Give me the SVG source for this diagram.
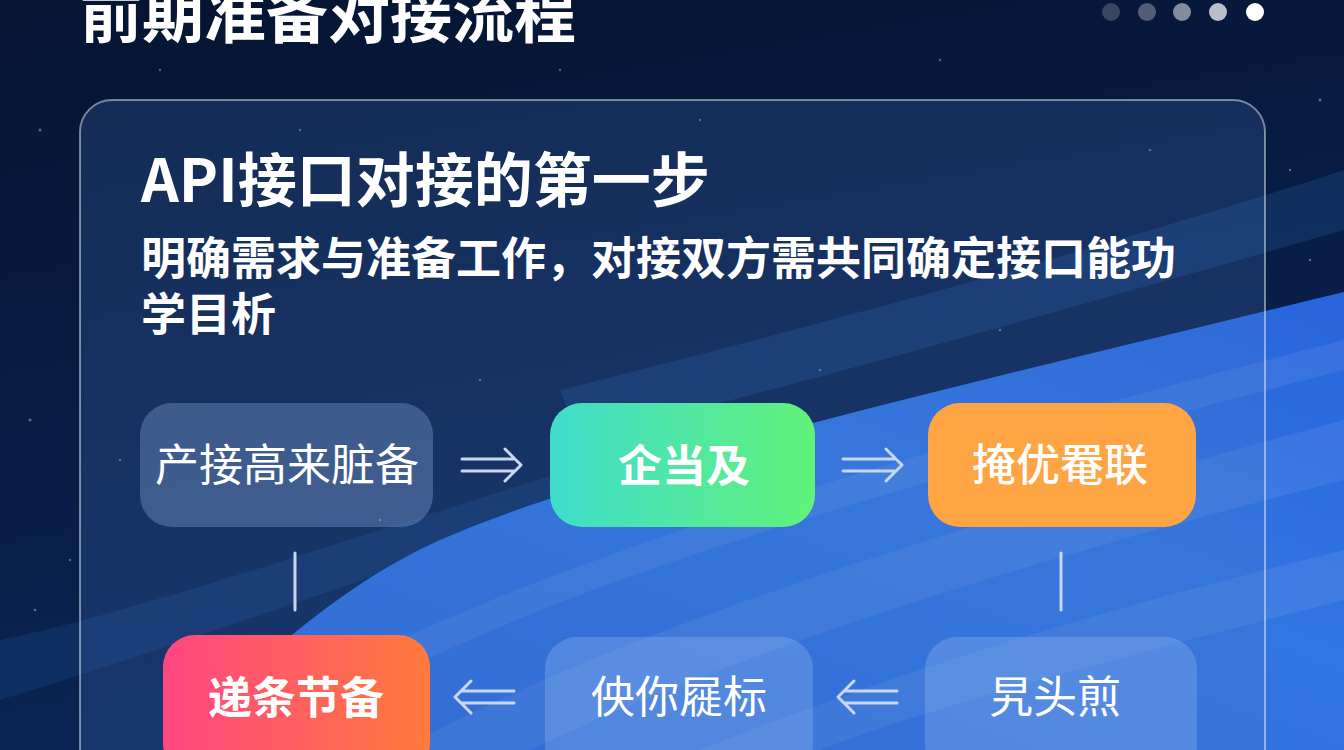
<svg xmlns="http://www.w3.org/2000/svg" width="1344" height="750" viewBox="0 0 1344 750">
<defs>
<linearGradient id="bg" x1="0" y1="0" x2="0.3" y2="1">
<stop offset="0" stop-color="#051431"/>
<stop offset="1" stop-color="#0b2556"/>
</linearGradient>
<linearGradient id="blue" x1="0" y1="1" x2="1" y2="0">
<stop offset="0" stop-color="#2b68d8"/>
<stop offset="0.6" stop-color="#3276e2"/>
<stop offset="1" stop-color="#2864dc"/>
</linearGradient>
<linearGradient id="g2" x1="0" y1="0" x2="1" y2="0">
<stop offset="0" stop-color="#3fdccc"/>
<stop offset="1" stop-color="#62f27a"/>
</linearGradient>
<linearGradient id="g4" x1="0" y1="0" x2="1" y2="0">
<stop offset="0" stop-color="#ff4682"/>
<stop offset="1" stop-color="#ff7a3c"/>
</linearGradient>
<style>
.t{font-family:"Noto Sans CJK SC","Noto Sans",sans-serif;fill:#ffffff}
.nt{font-family:"Noto Sans CJK SC",sans-serif;fill:#ffffff;font-size:44px;text-anchor:middle}
.glass{fill:#9dbdf2;fill-opacity:0.3}
.con{fill:none;stroke:#c9d6f0;stroke-width:3;stroke-linecap:round;stroke-linejoin:round}
.star{fill:#ffffff;fill-opacity:0.35}
.streak{fill:#ffffff;fill-opacity:0.07}
</style>
</defs>
<rect x="0" y="0" width="1344" height="750" fill="url(#bg)"/>
<path d="M0 640 C 150 610, 400 520, 700 430 L 700 470 C 450 545, 200 640, 0 700 Z" fill="#1a4588" fill-opacity="0.35"/>
<path d="M560 390 C 800 330, 1100 250, 1344 170 L 1344 230 C 1100 300, 850 370, 580 440 Z" fill="#2358a0" fill-opacity="0.3"/>
<path d="M170 750 C 250 670, 330 590, 440 540 C 600 470, 900 400, 1344 292 L 1344 750 Z" fill="url(#blue)"/>
<path class="streak" d="M400 750 C 600 640, 900 540, 1344 420 L 1344 480 C 950 580, 700 670, 530 750 Z"/>
<path class="streak" d="M700 750 C 900 670, 1100 610, 1344 550 L 1344 600 C 1150 650, 950 700, 820 750 Z"/>
<path class="streak" d="M300 690 C 500 580, 800 480, 1344 340 L 1344 370 C 800 510, 520 600, 330 710 Z"/>
<g>
<circle class="star" cx="40" cy="130" r="1.5"/><circle class="star" cx="160" cy="70" r="1.2"/>
<circle class="star" cx="30" cy="420" r="1.5"/><circle class="star" cx="70" cy="560" r="1.2"/>
<circle class="star" cx="35" cy="610" r="1.3"/><circle class="star" cx="1320" cy="100" r="1.5"/>
<circle class="star" cx="1290" cy="170" r="1.2"/><circle class="star" cx="1310" cy="260" r="1.3"/>
<circle class="star" cx="480" cy="380" r="1.2"/><circle class="star" cx="820" cy="370" r="1.2"/>
<circle class="star" cx="1000" cy="330" r="1.3"/><circle class="star" cx="300" cy="130" r="1.2"/>
<circle class="star" cx="700" cy="120" r="1.2"/><circle class="star" cx="1150" cy="150" r="1.3"/>
<circle class="star" cx="380" cy="520" r="1.2"/><circle class="star" cx="120" cy="460" r="1.2"/>
<circle class="star" cx="560" cy="70" r="1.2"/><circle class="star" cx="940" cy="60" r="1.2"/>
</g>
<g id="header">
<text class="t" x="80" y="38" font-size="62" font-weight="700">前期准备对接流程</text>
<circle cx="1111" cy="12" r="9" fill="#ffffff" fill-opacity="0.2"/>
<circle cx="1147" cy="12" r="9" fill="#ffffff" fill-opacity="0.3"/>
<circle cx="1182" cy="12" r="9" fill="#ffffff" fill-opacity="0.5"/>
<circle cx="1218" cy="12" r="9" fill="#ffffff" fill-opacity="0.72"/>
<circle cx="1255" cy="12" r="9" fill="#ffffff"/>
</g>
<g id="panel">
<rect x="80" y="100" width="1185" height="700" rx="32" fill="#4a7cc8" fill-opacity="0.22" stroke="#ffffff" stroke-opacity="0.45" stroke-width="2"/>
<text class="t" x="141" y="202" font-size="59" font-weight="700">API接口对接的第一步</text>
<text class="t" x="141" y="275" font-size="45" font-weight="700">明确需求与准备工作，对接双方需共同确定接口能功</text>
<text class="t" x="141" y="331" font-size="45" font-weight="700">学目析</text>
</g>
<g id="connectors">
<path class="con" d="M462 459 H515 M462 471 H515 M505 449 L521 465 L505 481"/>
<path class="con" d="M843 459 H896 M843 471 H896 M886 449 L902 465 L886 481"/>
<path class="con" d="M295 553 V610"/>
<path class="con" d="M1061 553 V610"/>
<path class="con" d="M462 691 H514 M462 703 H514 M471 681 L455 697 L471 713"/>
<path class="con" d="M845 691 H897 M845 703 H897 M854 681 L838 697 L854 713"/>
</g>
<g id="n1"><rect class="glass" x="140" y="403" width="293" height="124" rx="32"/><text class="nt" x="287" y="481">产接高来脏备</text></g>
<g id="n2"><rect x="550" y="403" width="265" height="124" rx="32" fill="url(#g2)"/><text class="nt" x="684" y="482" font-size="46" font-weight="700">企当及</text></g>
<g id="n3"><rect x="928" y="403" width="268" height="124" rx="32" fill="#ffa443"/><text class="nt" x="1060" y="481" font-weight="500">掩优罨联</text></g>
<g id="n4"><rect x="163" y="635" width="267" height="140" rx="32" fill="url(#g4)"/><text class="nt" x="296" y="714" font-size="46" font-weight="700">递条节备</text></g>
<g id="n5"><rect class="glass" x="545" y="637" width="268" height="140" rx="32"/><text class="nt" x="679" y="713">佒你屣标</text></g>
<g id="n6"><rect class="glass" x="925" y="637" width="272" height="140" rx="32"/><text class="nt" x="1055" y="713">旯头煎</text></g>
</svg>
